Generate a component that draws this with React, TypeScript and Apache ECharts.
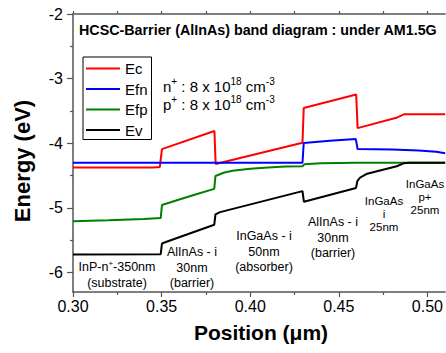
import React, { useEffect, useRef } from "react";
import * as echarts from "echarts";

const FONT = "'Liberation Sans', Arial, Helvetica, sans-serif";

const seriesNames = ["Ec", "Efn", "Efp", "Ev"];
const seriesColors = ["#ff0000", "#0000ff", "#008000", "#000000"];

const ecData: [number, number][] = [
  [0.30, -4.375], [0.345, -4.375], [0.349, -4.365], [0.3502, -4.09], [0.3798, -3.81],
  [0.3805, -4.32], [0.4295, -3.99], [0.4302, -3.455], [0.4598, -3.245], [0.4606, -3.765],
  [0.483, -3.60], [0.487, -3.55], [0.51, -3.55],
];
const efnData: [number, number][] = [
  [0.30, -4.30], [0.4295, -4.30], [0.4302, -3.995], [0.445, -3.96], [0.4596, -3.935],
  [0.4606, -4.09], [0.48, -4.095], [0.495, -4.11], [0.505, -4.13], [0.51, -4.155],
];
const efpData: [number, number][] = [
  [0.30, -5.205], [0.32, -5.19], [0.34, -5.17], [0.3495, -5.155], [0.3502, -4.955],
  [0.36, -4.87], [0.37, -4.785], [0.3797, -4.705], [0.3804, -4.505], [0.385, -4.455],
  [0.39, -4.425], [0.40, -4.395], [0.41, -4.375], [0.42, -4.36], [0.4295, -4.355],
  [0.4305, -4.325], [0.44, -4.31], [0.46, -4.30], [0.51, -4.30],
];
const evData: [number, number][] = [
  [0.30, -5.72], [0.3495, -5.715], [0.3502, -5.55], [0.352, -5.53], [0.3797, -5.26],
  [0.3804, -5.10], [0.383, -5.065], [0.4295, -4.74], [0.4303, -4.905], [0.4597, -4.69],
  [0.4605, -4.58], [0.462, -4.53], [0.466, -4.47], [0.4827, -4.355], [0.4865, -4.31],
  [0.49, -4.30], [0.51, -4.30],
];
const allData = [ecData, efnData, efpData, evData];

const xTicks = [0.30, 0.35, 0.40, 0.45, 0.50];
const xMinorTicks = [0.325, 0.375, 0.425, 0.475];
const yTicks = [-6, -5, -4, -3, -2];
const yMinorTicks = [-5.5, -4.5, -3.5, -2.5];

const titleText = "HCSC-Barrier (AlInAs) band diagram : under AM1.5G";
const layerLabels: { lines: string[]; x: number; y: number; gap: number; fs: number }[] = [
  { lines: ["{a|InP-n}{s|+}{a|-350nm}", "{a|(substrate)}"], x: 117, y: 267, gap: 15.5, fs: 12.5 },
  { lines: ["{a|AlInAs - i}", "{a|30nm}", "{a|(barrier)}"], x: 192, y: 252, gap: 15.5, fs: 12.5 },
  { lines: ["{a|InGaAs - i}", "{a|50nm}", "{a|(absorber)}"], x: 264, y: 236, gap: 15.5, fs: 12.5 },
  { lines: ["{a|AlInAs - i}", "{a|30nm}", "{a|(barrier)}"], x: 333, y: 222, gap: 15.5, fs: 12.5 },
  { lines: ["{a|InGaAs}", "{a|i}", "{a|25nm}"], x: 384, y: 201, gap: 13, fs: 11.5 },
  { lines: ["{a|InGaAs}", "{a|p+}", "{a|25nm}"], x: 425, y: 184, gap: 13, fs: 11.5 },
];

export default function App() {
  const ref = useRef<HTMLDivElement>(null);
  useEffect(() => {
    if (!ref.current) return;
    const chart = echarts.init(ref.current, null, { renderer: "svg" });
    const axisColor = "#555";
    const gridBox = { left: 73, top: 14, width: 376, height: 278 };
    const rich = {
      a: { fontSize: 15, fontFamily: FONT, color: "#000", lineHeight: 17 },
      s: { fontSize: 10, fontFamily: FONT, color: "#000", lineHeight: 17, padding: [0, 0, 9, 0] },
    };
    const smallRich = (fs: number) => ({
      a: { fontSize: fs, fontFamily: FONT, color: "#222" },
      s: { fontSize: 8, fontFamily: FONT, color: "#222", padding: [0, 0, 7, 0] },
    });

    const graphics: any[] = [
      {
        type: "text", left: 79, top: 23,
        style: { text: titleText, font: `bold 14.3px ${FONT}`, fill: "#000" },
      },
      {
        type: "text", x: 163, y: 86,
        style: { text: "{a|n}{s|+}{a| : 8 x 10}{s|18}{a| cm}{s|-3}", rich, textVerticalAlign: "middle" },
      },
      {
        type: "text", x: 163, y: 104,
        style: { text: "{a|p}{s|+}{a| : 8 x 10}{s|18}{a| cm}{s|-3}", rich, textVerticalAlign: "middle" },
      },
      {
        type: "text", x: 22, y: 161, rotation: Math.PI / 2,
        style: { text: "Energy (eV)", font: `bold 22px ${FONT}`, fill: "#000", textAlign: "center", textVerticalAlign: "middle" },
      },
      {
        type: "text", x: 261, y: 332,
        style: { text: "Position (\u03bcm)", font: `bold 21px ${FONT}`, fill: "#000", textAlign: "center", textVerticalAlign: "middle" },
      },
    ];
    layerLabels.forEach((g) => {
      g.lines.forEach((ln, i) => {
        graphics.push({
          type: "text", x: g.x, y: g.y + i * g.gap,
          style: { text: ln, rich: smallRich(g.fs), textAlign: "center", textVerticalAlign: "middle" },
        });
      });
    });

    chart.setOption({
      animation: false,
      backgroundColor: "#fff",
      grid: { ...gridBox, containLabel: false },
      legend: {
        orient: "vertical", left: 83, top: 57,
        data: seriesNames,
        icon: "path://M0,0H34V2H0Z",
        itemWidth: 34, itemHeight: 14, itemGap: 5.5, itemTextGap: 5,
        padding: [4, 4, 2, 3],
        borderColor: "#000", borderWidth: 1,
        textStyle: { fontSize: 15, fontFamily: FONT, color: "#000", lineHeight: 14 },
      },
      xAxis: [
        {
          type: "value", min: 0.30, max: 0.51, position: "bottom",
          axisLine: { show: true, lineStyle: { color: axisColor, width: 1.5 } },
          axisTick: { show: true, length: 5, customValues: xTicks, lineStyle: { color: axisColor, width: 1.2 } },
          axisLabel: { customValues: xTicks, formatter: (v: number) => v.toFixed(2), fontSize: 16, fontFamily: FONT, color: "#000", margin: 6 },
          splitLine: { show: false },
        },
        {
          type: "value", min: 0.30, max: 0.51, position: "bottom",
          axisLine: { show: false },
          axisTick: { show: true, length: 3, customValues: xMinorTicks, lineStyle: { color: axisColor, width: 1.2 } },
          axisLabel: { show: false },
          splitLine: { show: false },
        },
        {
          type: "value", min: 0.30, max: 0.51, position: "top",
          axisLine: { show: true, lineStyle: { color: axisColor, width: 1.5 } },
          axisTick: { show: true, length: 3, customValues: [...xTicks, ...xMinorTicks], lineStyle: { color: axisColor, width: 1.2 } },
          axisLabel: { show: false },
          splitLine: { show: false },
        },
      ],
      yAxis: [
        {
          type: "value", min: -6.3, max: -2, position: "left",
          axisLine: { show: true, lineStyle: { color: axisColor, width: 1.5 } },
          axisTick: { show: true, length: 6, customValues: yTicks, lineStyle: { color: axisColor, width: 1.2 } },
          axisLabel: { customValues: yTicks, fontSize: 16, fontFamily: FONT, color: "#000", margin: 10 },
          splitLine: { show: false },
        },
        {
          type: "value", min: -6.3, max: -2, position: "left",
          axisLine: { show: false },
          axisTick: { show: true, length: 3, customValues: yMinorTicks, lineStyle: { color: axisColor, width: 1.2 } },
          axisLabel: { show: false },
          splitLine: { show: false },
        },
      ],
      series: allData.map((d, i) => ({
        name: seriesNames[i],
        type: "line",
        data: d,
        xAxisIndex: 0,
        yAxisIndex: 0,
        showSymbol: false,
        symbol: "none",
        smooth: false,
        lineStyle: { color: seriesColors[i], width: 2 },
        itemStyle: { color: seriesColors[i] },
        clip: true,
      })),
      graphic: graphics,
    });
    return () => chart.dispose();
  }, []);
  return <div ref={ref} style={{ position: "absolute", left: 0, top: 0, width: 446, height: 353 }} />;
}
